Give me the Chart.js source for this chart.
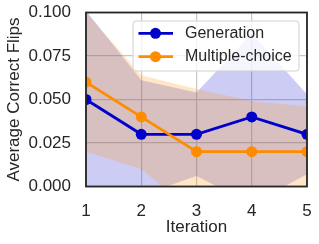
<!DOCTYPE html>
<html><head><meta charset="utf-8">
<script src="https://cdn.jsdelivr.net/npm/chart.js@4.4.1/dist/chart.umd.min.js"></script>
<style>html,body{margin:0;padding:0;background:#fff;}#wrap{width:319px;height:244px;}</style>
</head><body><div id="wrap"><canvas id="c" width="319" height="244"></canvas></div>
<script>
const iterations = ['1', '2', '3', '4', '5'];
const seriesNames = ['Generation', 'Multiple-choice'];
const genMean = [0.05, 0.03, 0.03, 0.04, 0.03];
const genUpper = [0.101, 0.061, 0.054, 0.088, 0.053];
const genLower = [-0.005, -0.005, 0.006, -0.01, 0.007];
const mcMean = [0.06, 0.04, 0.02, 0.02, 0.02];
const mcUpper = [0.100, 0.064, 0.056, 0.049, 0.046];
const mcLower = [0.02, 0.01, -0.016, -0.009, -0.006];
const yTicks = [0, 0.025, 0.05, 0.075, 0.1];

const BLUE = '#0000cd';
const ORANGE = '#ff8c00';
const TEXT = '#262626';
const FONT = "'Liberation Sans', Arial, sans-serif";

function lineDs(label, data, color, order) {
  return {label, data, borderColor: color, backgroundColor: color,
    pointBackgroundColor: color, pointBorderColor: color, pointRadius: 5.5,
    pointBorderWidth: 0, borderWidth: 2.8, fill: false, order, clip: 0, tension: 0, isMain: true};
}
function bandDs(data, fill, bg, order) {
  return {label: '', data, borderColor: 'transparent', borderWidth: 0, pointRadius: 0,
    backgroundColor: bg, fill, order, tension: 0};
}

const frameAndLegend = {
  id: 'frameAndLegend',
  afterDraw(chart) {
    const ctx = chart.ctx, a = chart.chartArea;
    ctx.save();
    ctx.strokeStyle = '#262626';
    ctx.lineWidth = 1.8;
    ctx.strokeRect(a.left, a.top, a.right - a.left, a.bottom - a.top);
    const bx = a.left + 47, by = a.top + 8.5, bw = a.right - 8 - bx, bh = 50;
    ctx.beginPath();
    if (ctx.roundRect) ctx.roundRect(bx, by, bw, bh, 3); else ctx.rect(bx, by, bw, bh);
    ctx.fillStyle = 'rgba(255,255,255,0.8)';
    ctx.fill();
    ctx.strokeStyle = '#d0d0d0';
    ctx.lineWidth = 1;
    ctx.stroke();
    const mains = chart.data.datasets.filter(d => d.isMain);
    const entries = seriesNames.map(n => mains.find(d => d.label === n));
    entries.forEach((d, i) => {
      const y = by + 12.3 + i * 23.4;
      ctx.strokeStyle = d.borderColor;
      ctx.lineWidth = 2.8;
      ctx.beginPath();
      ctx.moveTo(bx + 5.5, y);
      ctx.lineTo(bx + 40, y);
      ctx.stroke();
      ctx.fillStyle = d.borderColor;
      ctx.beginPath();
      ctx.arc(bx + 22.5, y, 5.5, 0, Math.PI * 2);
      ctx.fill();
      ctx.fillStyle = TEXT;
      ctx.font = '16px ' + FONT;
      ctx.textBaseline = 'middle';
      ctx.textAlign = 'left';
      ctx.fillText(d.label, bx + 52, y);
    });
    ctx.restore();
  }
};

new Chart(document.getElementById('c'), {
  type: 'line',
  data: {
    labels: iterations,
    datasets: [
      lineDs(seriesNames[1], mcMean, ORANGE, 0),
      lineDs(seriesNames[0], genMean, BLUE, 1),
      bandDs(mcUpper, 3, 'rgba(255,140,0,0.22)', 2),
      bandDs(mcLower, false, 'transparent', 3),
      bandDs(genUpper, 5, 'rgba(0,0,205,0.2)', 4),
      bandDs(genLower, false, 'transparent', 5)
    ]
  },
  options: {
    responsive: false,
    animation: false,
    devicePixelRatio: 1,
    layout: {padding: {left: 0, right: 12, top: 12.5, bottom: 0}},
    plugins: {legend: {display: false}, tooltip: {enabled: false}},
    scales: {
      x: {
        offset: false,
        grid: {color: '#c8c8c8', lineWidth: 1.2, drawTicks: false},
        border: {display: false},
        ticks: {color: TEXT, font: {family: FONT, size: 17}, padding: 15, maxRotation: 0},
        title: {display: true, text: 'Iteration', color: TEXT, font: {family: FONT, size: 17}, padding: {top: 0, bottom: 6}},
        afterFit(s) { s.height = 57.5; s.paddingLeft = 0; s.paddingRight = 0; }
      },
      y: {
        min: 0, max: 0.1,
        grid: {color: '#c8c8c8', lineWidth: 1.2, drawTicks: false},
        border: {display: false},
        afterBuildTicks(s) { s.ticks = yTicks.map(v => ({value: v})); },
        ticks: {color: TEXT, font: {family: FONT, size: 17}, padding: 15, callback: v => v.toFixed(3)},
        title: {display: true, text: 'Average Correct Flips', color: TEXT, font: {family: FONT, size: 17}, padding: {top: 4, bottom: 0}},
        afterFit(s) { s.width = 86; s.paddingTop = 0; s.paddingBottom = 0; }
      }
    }
  },
  plugins: [frameAndLegend]
});
</script></body></html>
